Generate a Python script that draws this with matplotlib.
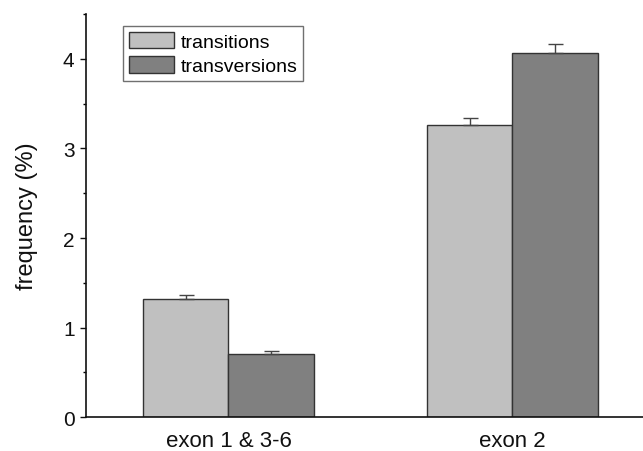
import numpy as np
import matplotlib
matplotlib.use("Agg")
import matplotlib.pyplot as plt
from matplotlib.ticker import MultipleLocator

plt.rcParams['font.family'] = ['Liberation Sans', 'DejaVu Sans']

# Data
groups = ["exon 1 & 3-6", "exon 2"]
transitions = [1.32, 3.26]
transitions_err = [0.04, 0.08]
transversions = [0.705, 4.06]
transversions_err = [0.035, 0.10]

light = "#c0c0c0"
dark = "#808080"
edge = "#333333"
width = 0.3

fig = plt.figure(figsize=(6.43, 4.52), dpi=100)
ax = fig.add_axes([0.1345, 0.0746, 0.8655, 0.8922])

x = np.arange(len(groups))
ax.bar(x - width/2, transitions, width, color=light, edgecolor=edge, linewidth=1.0,
       label="transitions", zorder=2)
ax.bar(x + width/2, transversions, width, color=dark, edgecolor=edge, linewidth=1.0,
       label="transversions", zorder=2)

# only upper whiskers are visible
ax.errorbar(x - width/2, transitions, yerr=[np.zeros(len(groups)), transitions_err],
            fmt='none', ecolor="#444444", elinewidth=1.0, capsize=5.4, capthick=1.0, zorder=3)
ax.errorbar(x + width/2, transversions, yerr=[np.zeros(len(groups)), transversions_err],
            fmt='none', ecolor="#444444", elinewidth=1.0, capsize=5.4, capthick=1.0, zorder=3)

ax.set_xlim(-0.5, 1.46)
ax.set_ylim(0, 4.5)
ax.set_xticks(x)
ax.set_xticklabels(groups, fontsize=16)
ax.yaxis.set_major_locator(MultipleLocator(1))
ax.yaxis.set_minor_locator(MultipleLocator(0.5))
ax.tick_params(axis='x', length=0, pad=9.5, colors="#111111")
ax.tick_params(axis='y', which='major', length=4.3, width=1.0, pad=4.3,
               labelsize=15, direction='out', colors="#111111")
ax.tick_params(axis='y', which='minor', length=2.3, width=1.0, direction='out')

ax.set_ylabel("frequency (%)", fontsize=17, labelpad=18, color="#111111")

for side in ['top', 'right']:
    ax.spines[side].set_visible(False)
for side in ['left', 'bottom']:
    ax.spines[side].set_linewidth(1.2)
    ax.spines[side].set_color("#111111")

leg = ax.legend(loc='upper left', bbox_to_anchor=(123/643, 1 - 27/452),
                bbox_transform=fig.transFigure, borderaxespad=0,
                fontsize=14, fancybox=False, framealpha=1, edgecolor="#707070",
                handlelength=2.3, handleheight=0.9, handletextpad=0.35,
                labelspacing=0.3, borderpad=0.3)
leg.get_frame().set_linewidth(1.0)

fig.savefig("out.png", dpi=100)
